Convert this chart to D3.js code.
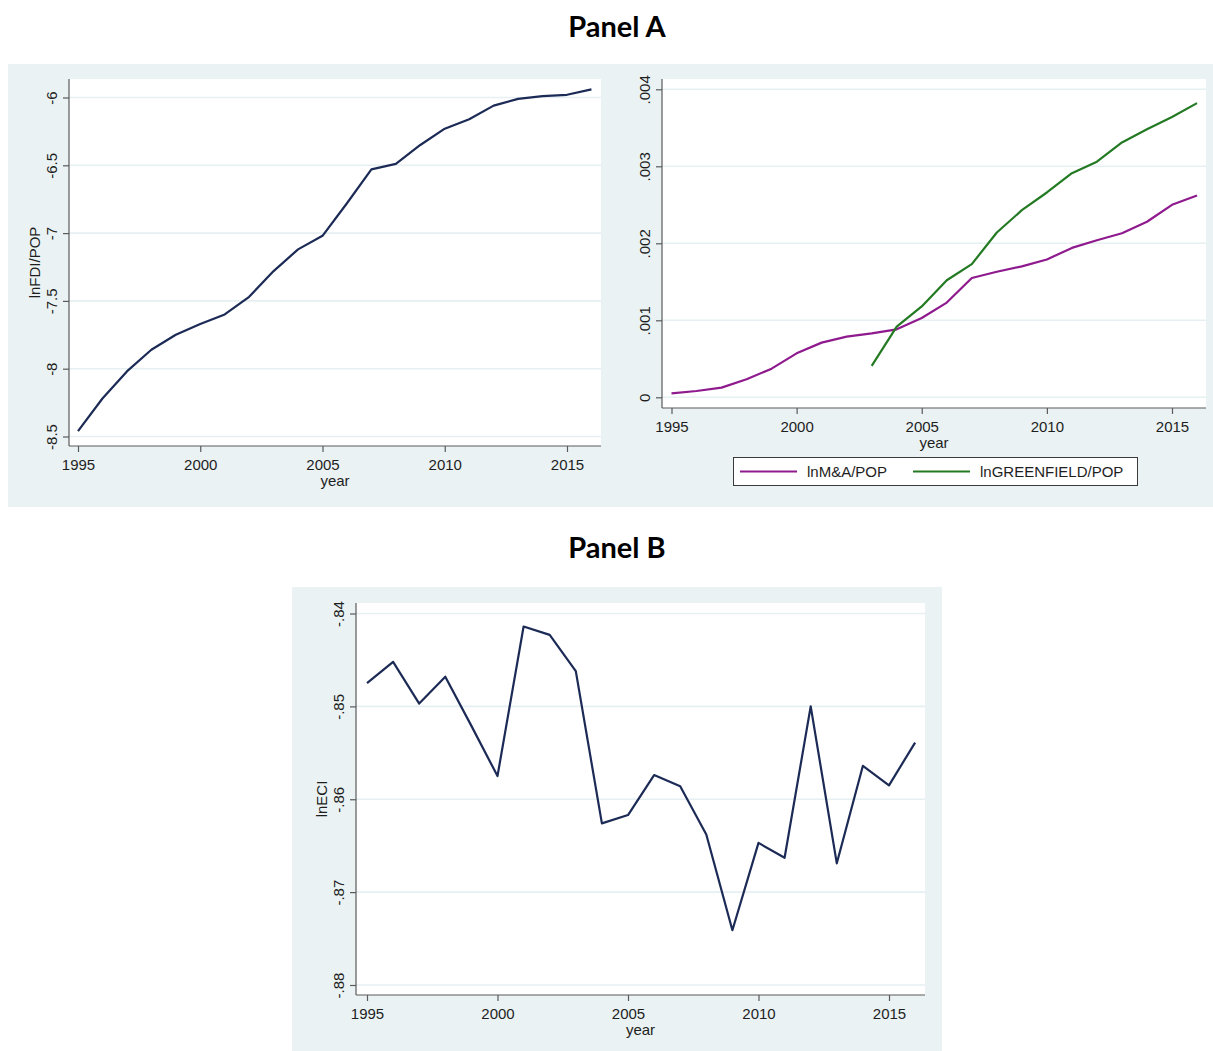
<!DOCTYPE html>
<html>
<head>
<meta charset="utf-8">
<script src="https://cdn.jsdelivr.net/npm/d3@7"></script>
<style>
  html, body { margin: 0; padding: 0; background: #ffffff; }
  svg { display: block; }
  .tick-label { font-family: "Liberation Sans", Arial, sans-serif; font-size: 15px; fill: #1e1e1e; }
  .axis-title { font-family: "Liberation Sans", Arial, sans-serif; font-size: 15px; fill: #1e1e1e; }
  .legend-label { font-family: "Liberation Sans", Arial, sans-serif; font-size: 15px; fill: #1e1e1e; }
  .panel-title { font-family: Lato, "Open Sans", sans-serif; font-weight: 700; font-size: 29px; fill: #000; }
</style>
</head>
<body>
<script>
// Years covered by every series
const years = [1995, 1996, 1997, 1998, 1999, 2000, 2001, 2002, 2003, 2004, 2005,
               2006, 2007, 2008, 2009, 2010, 2011, 2012, 2013, 2014, 2015, 2016];

// Panel A, left: lnFDI/POP
const lnFDI = [-8.46, -8.22, -8.02, -7.86, -7.75, -7.67, -7.60, -7.47, -7.28, -7.12, -7.02,
               -6.78, -6.53, -6.49, -6.35, -6.23, -6.16, -6.06, -6.01, -5.99, -5.98, -5.94];

// Panel A, right: lnM&A/POP (all years) and lnGREENFIELD/POP (from 2003)
const lnMA = [0.000052, 0.000082, 0.000126, 0.000234, 0.000372, 0.000571, 0.00071, 0.000788,
              0.00083, 0.000883, 0.00103, 0.00123, 0.00155, 0.00163, 0.0017, 0.00179,
              0.00194, 0.00204, 0.00213, 0.00228, 0.0025, 0.00262];
const greenYears = [2003, 2004, 2005, 2006, 2007, 2008, 2009, 2010, 2011, 2012, 2013, 2014, 2015, 2016];
const lnGreen = [0.000407, 0.000918, 0.00118, 0.00152, 0.00173, 0.00214, 0.00243, 0.00266,
                 0.00291, 0.00306, 0.00331, 0.00348, 0.00364, 0.00382];

// Panel B: lnECI
const lnECI = [-0.8475, -0.8452, -0.8497, -0.8468, -0.8521, -0.8575, -0.8414, -0.8423, -0.8462,
               -0.8626, -0.8617, -0.8574, -0.8586, -0.8638, -0.8741, -0.8647, -0.8663, -0.8500,
               -0.8669, -0.8564, -0.8585, -0.8539];

// Axis ticks and their printed labels
const yearTicks = [1995, 2000, 2005, 2010, 2015];
const fdiTicks = [-8.5, -8, -7.5, -7, -6.5, -6];
const fdiTickLabels = ["-8.5", "-8", "-7.5", "-7", "-6.5", "-6"];
const fdiDomain = [-8.5, -6];
const ratioTicks = [0, 0.001, 0.002, 0.003, 0.004];
const ratioTickLabels = ["0", ".001", ".002", ".003", ".004"];
const ratioDomain = [0, 0.004];
const eciTicks = [-0.88, -0.87, -0.86, -0.85, -0.84];
const eciTickLabels = ["-.88", "-.87", "-.86", "-.85", "-.84"];
const eciDomain = [-0.88, -0.84];

const legendLabels = ["lnM&A/POP", "lnGREENFIELD/POP"];
const panelTitles = ["Panel A", "Panel B"];

const BG = "#eaf2f3";
const GRID = "#e6eff1";
const NAVY = "#1c2a56";
const PURPLE = "#8e1a8e";
const GREEN = "#237a23";

const svg = d3.select("body").append("svg")
  .attr("width", 1213).attr("height", 1051);

// Titles
svg.append("text").attr("class", "panel-title")
  .attr("x", 617).attr("y", 37).attr("text-anchor", "middle").text(panelTitles[0]);
svg.append("text").attr("class", "panel-title")
  .attr("x", 617).attr("y", 558).attr("text-anchor", "middle").text(panelTitles[1]);

// One Stata-style graph: light background, white plot region, grid, axes
function drawGraph(cfg) {
  const g = svg.append("g");
  g.append("rect").attr("x", cfg.bg[0]).attr("y", cfg.bg[1])
    .attr("width", cfg.bg[2]).attr("height", cfg.bg[3]).attr("fill", BG);
  const [pl, pt, pr, pb] = cfg.plot;
  g.append("rect").attr("x", pl).attr("y", pt)
    .attr("width", pr - pl).attr("height", pb - pt).attr("fill", "#ffffff");

  const x = d3.scaleLinear().domain(cfg.xDomain).range(cfg.xRange);
  const y = d3.scaleLinear().domain(cfg.yDomain).range(cfg.yRange);

  // horizontal grid lines
  g.selectAll("line.grid").data(cfg.yTicks).join("line")
    .attr("class", "grid")
    .attr("x1", pl).attr("x2", pr)
    .attr("y1", d => y(d)).attr("y2", d => y(d))
    .attr("stroke", GRID).attr("stroke-width", 1.6);

  // y axis
  const yAxis = d3.axisLeft(y).tickValues(cfg.yTicks).tickSize(6)
    .tickFormat((d, i) => cfg.yTickLabels[i]);
  const ya = g.append("g").attr("transform", `translate(${pl},0)`).call(yAxis);
  ya.select(".domain").attr("stroke", "#5a5a5a").attr("stroke-width", 1.2)
    .attr("d", `M0,${pt}V${pb}`);
  ya.selectAll(".tick line").attr("stroke", "#5a5a5a").attr("stroke-width", 1.2);
  ya.selectAll(".tick text")
    .attr("class", "tick-label")
    .attr("x", null).attr("dy", null)
    .attr("text-anchor", "middle")
    .attr("transform", "translate(-12,0) rotate(-90)")
    .attr("y", 0);

  // x axis
  const xAxis = d3.axisBottom(x).tickValues(yearTicks).tickSize(6).tickFormat(d3.format("d"));
  const xa = g.append("g").attr("transform", `translate(0,${pb})`).call(xAxis);
  xa.select(".domain").attr("stroke", "#5a5a5a").attr("stroke-width", 1.2)
    .attr("d", `M${pl},0H${pr}`);
  xa.selectAll(".tick line").attr("stroke", "#5a5a5a").attr("stroke-width", 1.2);
  xa.selectAll(".tick text").attr("class", "tick-label")
    .attr("dy", null).attr("y", 24);

  // axis titles
  g.append("text").attr("class", "axis-title")
    .attr("x", (pl + pr) / 2).attr("y", pb + 40)
    .attr("text-anchor", "middle").text("year");
  if (cfg.yTitle) {
    g.append("text").attr("class", "axis-title")
      .attr("transform", `translate(${pl - 29},${(pt + pb) / 2}) rotate(-90)`)
      .attr("text-anchor", "middle").text(cfg.yTitle);
  }

  // series
  const line = d3.line().x(d => x(d[0])).y(d => y(d[1]));
  cfg.series.forEach(s => {
    g.append("path")
      .datum(d3.zip(s.x, s.y))
      .attr("d", line)
      .attr("fill", "none")
      .attr("stroke", s.color)
      .attr("stroke-width", 2.2)
      .attr("stroke-linejoin", "round");
  });
  return { g, x, y };
}

// Panel A, left
drawGraph({
  bg: [8, 64, 605, 443],
  plot: [69, 79, 601, 446],
  xDomain: [1995, 2015], xRange: [78, 567],
  yDomain: fdiDomain, yRange: [436.5, 97.5],
  yTicks: fdiTicks, yTickLabels: fdiTickLabels,
  yTitle: "lnFDI/POP",
  series: [{ x: years, y: lnFDI, color: NAVY }]
});

// Panel A, right
const right = drawGraph({
  bg: [613, 64, 600, 443],
  plot: [662, 79, 1206, 408],
  xDomain: [1995, 2015], xRange: [671.5, 1172],
  yDomain: ratioDomain, yRange: [397.3, 89.3],
  yTicks: ratioTicks, yTickLabels: ratioTickLabels,
  yTitle: null,
  series: [
    { x: years, y: lnMA, color: PURPLE },
    { x: greenYears, y: lnGreen, color: GREEN }
  ]
});

// Legend under the right graph
const leg = right.g.append("g");
leg.append("rect").attr("x", 733.5).attr("y", 457.5).attr("width", 404).attr("height", 28)
  .attr("fill", "#ffffff").attr("stroke", "#3a3a3a").attr("stroke-width", 1);
const legItems = [
  { label: legendLabels[0], color: PURPLE, x0: 740 },
  { label: legendLabels[1], color: GREEN, x0: 913 }
];
legItems.forEach(it => {
  leg.append("line").attr("x1", it.x0).attr("x2", it.x0 + 57)
    .attr("y1", 471.5).attr("y2", 471.5)
    .attr("stroke", it.color).attr("stroke-width", 2.2);
  leg.append("text").attr("class", "legend-label")
    .attr("x", it.x0 + 67).attr("y", 477).text(it.label);
});

// Panel B
drawGraph({
  bg: [292, 587, 650, 464],
  plot: [356, 603, 925, 995],
  xDomain: [1995, 2015], xRange: [367, 889],
  yDomain: eciDomain, yRange: [985, 613.5],
  yTicks: eciTicks, yTickLabels: eciTickLabels,
  yTitle: "lnECI",
  series: [{ x: years, y: lnECI, color: NAVY }]
});
</script>
</body>
</html>
